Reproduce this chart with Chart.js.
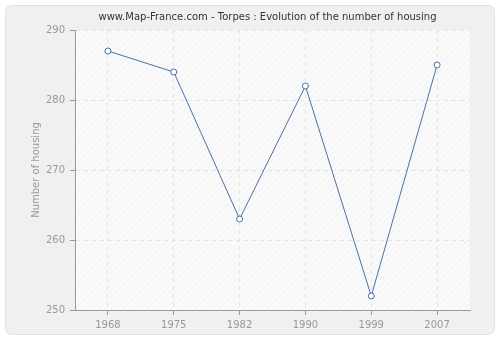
<!DOCTYPE html>
<html>
<head>
<meta charset="utf-8">
<script src="https://cdn.jsdelivr.net/npm/chart.js@4/dist/chart.umd.min.js"></script>
<style>
  html, body { margin: 0; padding: 0; background: #fff; }
  #wrap { width: 500px; height: 340px; position: relative; }
</style>
</head>
<body>
<div id="wrap"><canvas id="c" width="500" height="340"></canvas></div>
<script>
// data
const years = ["1968", "1975", "1982", "1990", "1999", "2007"];
const housing = [287, 284, 263, 282, 252, 285];
const yTicks = [250, 260, 270, 280, 290];

// hatch pattern for plot background
function makeHatch() {
  const p = document.createElement("canvas");
  p.width = 6; p.height = 6;
  const g = p.getContext("2d");
  g.fillStyle = "#fafafa";
  g.fillRect(0, 0, 6, 6);
  g.strokeStyle = "#f0f0f0";
  g.lineWidth = 1;
  g.beginPath();
  g.moveTo(0, 6); g.lineTo(6, 0);
  g.moveTo(-3, 3); g.lineTo(3, -3);
  g.moveTo(3, 9); g.lineTo(9, 3);
  g.stroke();
  return p;
}

// frame + plot background, title centred over the plot
const bgPlugin = {
  id: "bg",
  afterLayout(chart) {
    const t = chart.titleBlock;
    if (t) { t.left = 80; t.right = 455; }
  },
  beforeDraw(chart) {
    const ctx = chart.ctx;
    const a = chart.chartArea;
    ctx.save();
    ctx.fillStyle = "#f0f0f0";
    ctx.strokeStyle = "#e2e2e2";
    ctx.lineWidth = 1;
    ctx.beginPath();
    ctx.roundRect(5.5, 5.5, 489, 329, 6);
    ctx.fill();
    ctx.stroke();
    ctx.fillStyle = ctx.createPattern(makeHatch(), "repeat");
    ctx.fillRect(a.left, a.top, a.right - a.left, a.bottom - a.top);
    ctx.restore();
  }
};

const font = { family: "DejaVu Sans", size: 10 };

new Chart(document.getElementById("c"), {
  type: "line",
  data: {
    labels: years,
    datasets: [{
      data: housing,
      borderColor: "#4a72a8",
      borderWidth: 1,
      pointBackgroundColor: "#ffffff",
      pointBorderColor: "#4a72a8",
      pointBorderWidth: 1,
      pointRadius: 3,
      tension: 0
    }]
  },
  options: {
    responsive: false,
    animation: false,
    layout: { padding: { left: 30, right: 30, top: 0, bottom: 10 } },
    plugins: {
      legend: { display: false },
      tooltip: { enabled: false },
      title: {
        display: true,
        text: "www.Map-France.com - Torpes : Evolution of the number of housing",
        color: "#333",
        font: { family: "DejaVu Sans", size: 10, weight: "normal" },
        padding: { top: 11, bottom: 7 }
      }
    },
    scales: {
      x: {
        offset: true,
        grid: {
          offset: false,
          color: "#e4e4e4",
          tickColor: "#999",
          tickBorderDash: [],
          tickLength: 5
        },
        border: { display: true, color: "#999", dash: [4, 4] },
        ticks: { color: "#999", padding: 4, font },
        afterFit(s) { s.height = 20; }
      },
      y: {
        min: 250,
        max: 290,
        afterBuildTicks(s) { s.ticks = yTicks.map(v => ({ value: v })); },
        grid: {
          color: "#e4e4e4",
          tickColor: "#999",
          tickBorderDash: [],
          tickLength: 5
        },
        border: { display: true, color: "#999", dash: [4, 4] },
        ticks: { color: "#999", padding: 5, font },
        title: {
          display: true,
          text: "Number of housing",
          color: "#999",
          font,
          padding: { top: 0, bottom: 4 }
        },
        afterFit(s) { s.width = 45; }
      }
    }
  },
  plugins: [bgPlugin]
});
</script>
</body>
</html>
